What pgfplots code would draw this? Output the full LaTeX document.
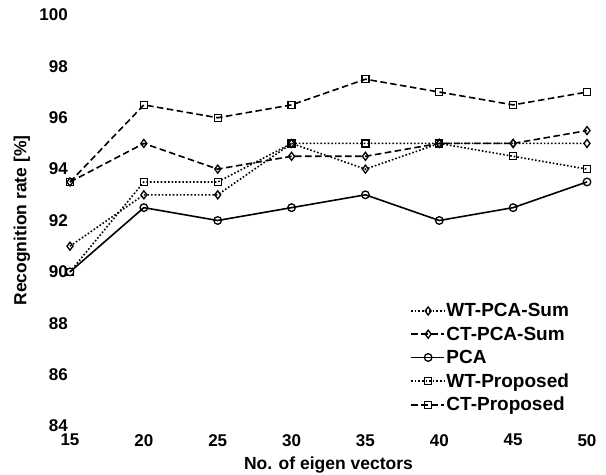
\documentclass[border=0pt]{standalone}
\usepackage{pgfplots}
\pgfplotsset{compat=1.18}
\usepackage{fontspec}
\setmainfont{Liberation Sans}
\begin{document}
\begin{tikzpicture}
\begin{axis}[
  scale only axis,
  width=517pt, height=411pt,
  xmin=15, xmax=50, ymin=84, ymax=100,
  xtick={15,20,...,50},
  ytick={84,86,...,100},
  axis line style={draw=none},
  major tick length=0pt,
  clip=false,
  /pgf/number format/assume math mode=true,
  tick label style={font=\fontsize{17}{20}\selectfont\bfseries},
  yticklabel style={inner sep=2pt},
  xticklabel style={inner sep=3pt, yshift=-5pt},
  xlabel={No. of eigen vectors},
  ylabel={Recognition rate [\%]},
  label style={font=\fontsize{17.5}{20}\selectfont\bfseries},
  xlabel style={at={(rel axis cs:0.5,0)}, anchor=center, yshift=-39pt},
  ylabel style={at={(axis description cs:-0.093,0.5)}, anchor=center},
  legend style={draw=none, fill=none, at={(rel axis cs:0.658,0.302)}, anchor=north west,
    font=\fontsize{19}{22}\selectfont\bfseries, row sep=5.5pt, inner sep=0pt,
    nodes={inner sep=1.5pt}},
  legend cell align=left,
  legend image code/.code={\draw[mark repeat=2,mark phase=2] plot coordinates {(0pt,0pt) (17pt,0pt) (33pt,0pt)};},
  every axis plot/.append style={black, line width=1.6pt, mark options={solid, line width=1.3pt, fill=white}},
]
\addplot[dotted, mark=diamond, mark size=4pt] coordinates {(15,91) (20,93) (25,93) (30,95) (35,94) (40,95) (45,95) (50,95)};
\addlegendentry{WT-PCA-Sum}
\addplot[dash pattern=on 6.5pt off 3.5pt, mark=diamond, mark size=4pt] coordinates {(15,93.5) (20,95) (25,94) (30,94.5) (35,94.5) (40,95) (45,95) (50,95.5)};
\addlegendentry{CT-PCA-Sum}
\addplot[solid, mark=o, mark size=3.8pt] coordinates {(15,90) (20,92.5) (25,92) (30,92.5) (35,93) (40,92) (45,92.5) (50,93.5)};
\addlegendentry{PCA}
\addplot[dotted, mark=square, mark size=3.5pt] coordinates {(15,90) (20,93.5) (25,93.5) (30,95) (35,95) (40,95) (45,94.5) (50,94)};
\addlegendentry{WT-Proposed}
\addplot[dash pattern=on 6.5pt off 3.5pt, mark=square, mark size=3.5pt] coordinates {(15,93.5) (20,96.5) (25,96) (30,96.5) (35,97.5) (40,97) (45,96.5) (50,97)};
\addlegendentry{CT-Proposed}
\coordinate (ll) at (rel axis cs:0,0);
\coordinate (ur) at (rel axis cs:1,1);
\end{axis}
\pgfresetboundingbox
\path (ll) ++(-70pt,-49pt) coordinate (a) (ur) ++(19pt,15pt) coordinate (b);
\path[use as bounding box] (a) rectangle (b);
\end{tikzpicture}
\end{document}
